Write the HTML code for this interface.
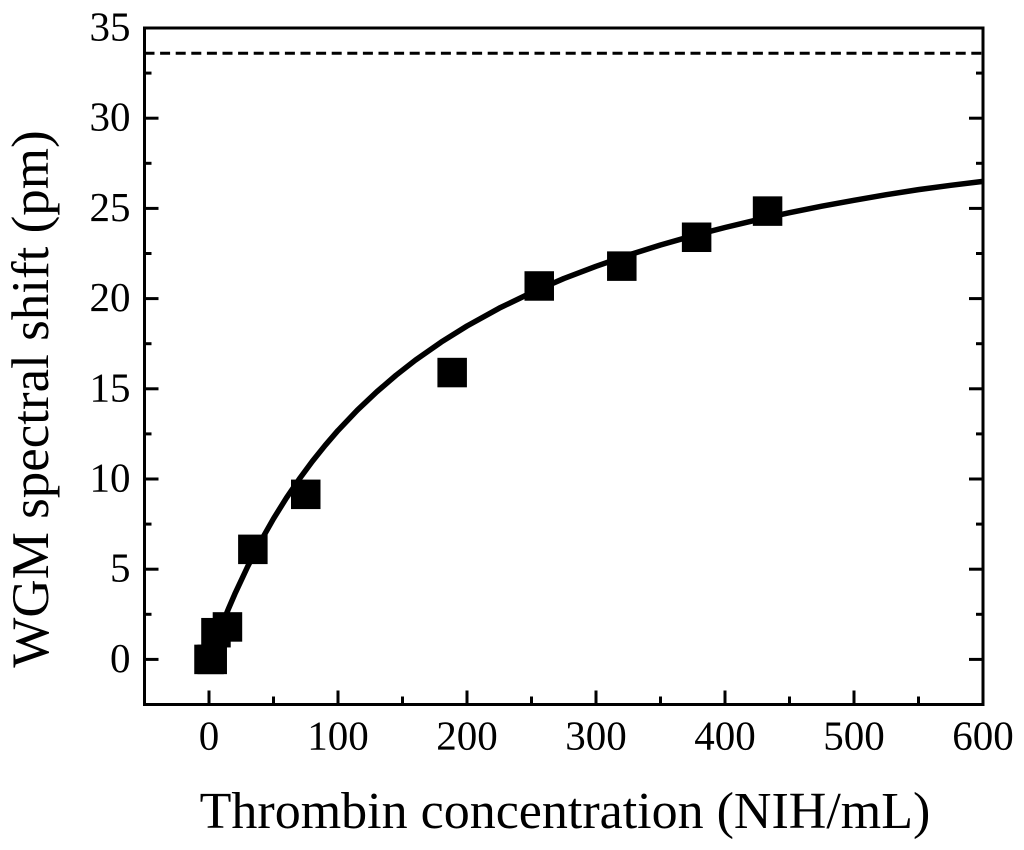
<!DOCTYPE html>
<html>
<head>
<meta charset="utf-8">
<title>WGM spectral shift vs thrombin concentration</title>
<style>
  html, body { margin: 0; padding: 0; background: #fff; }
  svg { display: block; filter: blur(0.35px); }
  text { font-family: "Liberation Serif", serif; fill: #000; }
</style>
</head>
<body>
<svg id="chart" width="1024" height="850" viewBox="0 0 1024 850" xmlns="http://www.w3.org/2000/svg">
  <rect x="0" y="0" width="1024" height="850" fill="#fff"/>
  <g id="plot"></g>
  <text x="565" y="828" text-anchor="middle" font-size="52">Thrombin concentration (NIH/mL)</text>
  <text x="48" y="399" text-anchor="middle" font-size="53" transform="rotate(-90 48 399)">WGM spectral shift (pm)</text>
</svg>
<script>
const xMajorTicks = [0, 100, 200, 300, 400, 500, 600];
const xMinorTicks = [50, 150, 250, 350, 450, 550];
const yMajorTicks = [0, 5, 10, 15, 20, 25, 30, 35];
const yMinorTicks = [2.5, 7.5, 12.5, 17.5, 22.5, 27.5, 32.5];
const pointX = [0, 2.5, 5.4, 14.3, 34, 75, 188.5, 256, 320, 378, 433];
const pointY = [0, 0, 1.48, 1.8, 6.1, 9.15, 15.9, 20.7, 21.8, 23.4, 24.85];
const fitX = [10, 15, 20, 30, 40, 50, 60, 70, 80, 90, 100, 115, 130, 145, 160, 180, 200, 225, 250, 275, 300, 325, 350, 375, 400, 425, 450, 475, 500, 525, 550, 575, 600];
const fitY = [1.91, 2.79, 3.62, 5.15, 6.54, 7.8, 8.95, 10.0, 10.97, 11.86, 12.69, 13.82, 14.83, 15.75, 16.59, 17.59, 18.48, 19.47, 20.33, 21.11, 21.79, 22.41, 22.97, 23.48, 23.94, 24.37, 24.76, 25.12, 25.45, 25.76, 26.04, 26.28, 26.5];
const saturationLevel = 33.6;
const xDomain = [-50, 600];
const yDomain = [-2.5, 35];

const NS = 'http://www.w3.org/2000/svg';
const plot = document.getElementById('plot');
const L = 144.5, R = 983, T = 28, B = 704.5;
const sx = v => L + (v - xDomain[0]) / (xDomain[1] - xDomain[0]) * (R - L);
const sy = v => B - (v - yDomain[0]) / (yDomain[1] - yDomain[0]) * (B - T);

function make(tag, attrs) {
  const el = document.createElementNS(NS, tag);
  for (const k in attrs) el.setAttribute(k, attrs[k]);
  plot.appendChild(el);
  return el;
}
function line(x1, y1, x2, y2, w) {
  return make('line', { x1: x1, y1: y1, x2: x2, y2: y2, stroke: '#000', 'stroke-width': w });
}

// saturation level
const dash = line(L, sy(saturationLevel), R, sy(saturationLevel), 3);
dash.setAttribute('stroke-dasharray', '10 5.6');



// fit curve
const fitPath = make('path', {
  d: 'M' + fitX.map((x, i) => sx(x).toFixed(2) + ' ' + sy(fitY[i]).toFixed(2)).join(' L'),
  fill: 'none', stroke: '#000', 'stroke-width': 5.5, 'stroke-linejoin': 'round'
});



// data markers
const size = 29.5;
pointX.forEach((x, i) => {
  const r = make('rect', { x: sx(x) - size / 2, y: sy(pointY[i]) - size / 2, width: size, height: size, fill: '#000' });
  
  
});

// x ticks
xMajorTicks.forEach(v => {
  const t = line(sx(v), B, sx(v), B - 14, 3);
  
  
  const lab = make('text', { x: sx(v), y: 749.5, 'text-anchor': 'middle', 'font-size': 41 });
  lab.textContent = v;
  
  
});
xMinorTicks.forEach(v => {
  const t = line(sx(v), B, sx(v), B - 8, 3);
  
  
});

// y ticks
yMajorTicks.forEach(v => {
  const a = line(L, sy(v), L + 14, sy(v), 3);
  
  
  const b = line(R, sy(v), R - 14, sy(v), 3);
  
  
  const lab = make('text', { x: 130.5, y: sy(v) + 12.5, 'text-anchor': 'end', 'font-size': 41 });
  lab.textContent = v;
  
  
});
yMinorTicks.forEach(v => {
  const a = line(L, sy(v), L + 7, sy(v), 3);
  
  
  const b = line(R, sy(v), R - 7, sy(v), 3);
  
  
});

// frame
const frame = make('rect', { x: L, y: T, width: R - L, height: B - T, fill: 'none', stroke: '#000', 'stroke-width': 3 });


</script>
</body>
</html>
